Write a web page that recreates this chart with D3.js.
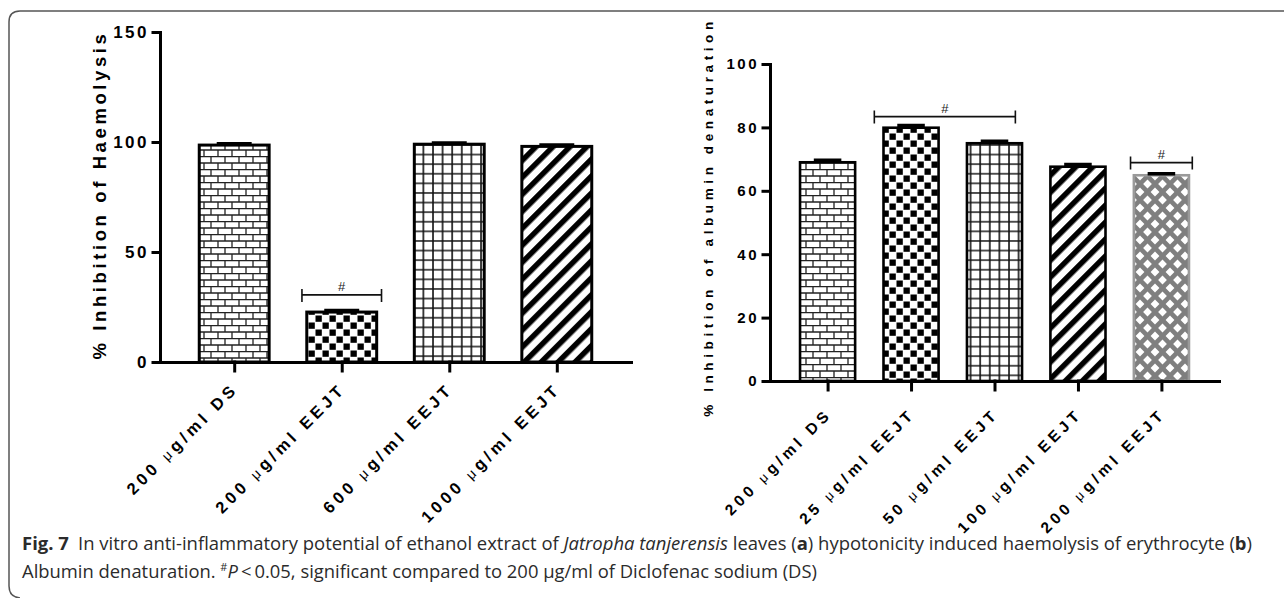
<!DOCTYPE html>
<html>
<head>
<script src="https://d3js.org/d3.v7.min.js"></script>
<style>
  body { margin: 0; background: #fff; }
  svg text { font-family: "Liberation Sans", Arial, sans-serif; }
</style>
</head>
<body>
<div id="chart"></div>
<script>
// panel a : haemolysis
var catsA = ["200 μg/ml DS", "200 μg/ml EEJT", "600 μg/ml EEJT", "1000 μg/ml EEJT"];
var valsA = [98.6, 22.7, 99.0, 98.0];
var errsA = [0.6, 0.7, 0.6, 0.6];
var fillsA = ["brick", "checker", "grid", "stripe"];
var ticksA = [0, 50, 100, 150];

// panel b : albumin denaturation
var catsB = ["200 μg/ml DS", "25 μg/ml EEJT", "50 μg/ml EEJT", "100 μg/ml EEJT", "200 μg/ml EEJT"];
var valsB = [69.0, 79.9, 75.0, 67.6, 64.9];
var errsB = [0.6, 0.7, 0.6, 0.7, 0.5];
var fillsB = ["brick", "checker", "grid", "stripe", "diamond"];
var ticksB = [0, 20, 40, 60, 80, 100];

// significance brackets: [first category, last category, level]
var bracketsA = [[1, 1, 30.5]];
var bracketsB = [[1, 2, 83.4], [4, 4, 68.9]];

var width = 1284, height = 598;
var svg = d3.select('#chart').append('svg').attr('width', width).attr('height', height);

// frame
svg.append('path')
  .attr('d', 'M1284,11 L20,11 Q9,11 9,22 L9,586 Q9,597 20,598')
  .attr('fill', 'none').attr('stroke', '#555').attr('stroke-width', 1.5);

// patterns
var defs = svg.append('defs');
var p = defs.append('pattern').attr('id', 'brick').attr('patternUnits', 'userSpaceOnUse')
  .attr('width', 14).attr('height', 13);
p.append('rect').attr('width', 14).attr('height', 13).attr('fill', '#fff');
p.append('path').attr('d', 'M0,0.5H14M0,7H14M1,0V7M8,7V13')
  .attr('stroke', '#222').attr('stroke-width', 1.3).attr('fill', 'none');

p = defs.append('pattern').attr('id', 'checker').attr('patternUnits', 'userSpaceOnUse')
  .attr('width', 14).attr('height', 14);
p.append('rect').attr('width', 14).attr('height', 14).attr('fill', '#fff');
p.append('rect').attr('x', 0.5).attr('y', 0.5).attr('width', 6.3).attr('height', 6.3).attr('fill', '#000');
p.append('rect').attr('x', 7.5).attr('y', 7.5).attr('width', 6.3).attr('height', 6.3).attr('fill', '#000');

p = defs.append('pattern').attr('id', 'grid').attr('patternUnits', 'userSpaceOnUse')
  .attr('width', 9.6).attr('height', 9.6);
p.append('rect').attr('width', 9.6).attr('height', 9.6).attr('fill', '#fff');
p.append('path').attr('d', 'M0,1H9.6M1,0V9.6').attr('stroke', '#111').attr('stroke-width', 1.6);

p = defs.append('pattern').attr('id', 'stripe').attr('patternUnits', 'userSpaceOnUse')
  .attr('width', 12).attr('height', 12).attr('patternTransform', 'rotate(45)');
p.append('rect').attr('width', 12).attr('height', 12).attr('fill', '#fff');
p.append('rect').attr('width', 5.5).attr('height', 12).attr('fill', '#000');

p = defs.append('pattern').attr('id', 'diamond').attr('patternUnits', 'userSpaceOnUse')
  .attr('width', 15).attr('height', 16);
p.append('rect').attr('width', 15).attr('height', 16).attr('fill', '#7f7f7f');
var dm = function(cx, cy) {
  var r = 4.4;
  return 'M' + cx + ',' + (cy - r) + 'L' + (cx + r) + ',' + cy + 'L' + cx + ',' + (cy + r) + 'L' + (cx - r) + ',' + cy + 'Z';
};
p.append('path')
  .attr('d', dm(0, 0) + dm(15, 0) + dm(0, 16) + dm(15, 16) + dm(7.5, 8))
  .attr('fill', '#fff');

function panel(o) {
  var x = d3.scalePoint().domain(o.cats).range(o.xr).padding(0.69);
  var y = d3.scaleLinear().domain([0, o.ticks[o.ticks.length - 1]]).range(o.yr);
  var bw = x.step() * o.bar;
  var g = svg.append('g');

  // bars
  g.selectAll('rect.bar').data(o.vals).enter().append('rect')
    .attr('class', 'bar')
    .attr('x', function(d, i) { return x(o.cats[i]) - bw / 2; })
    .attr('y', function(d) { return y(d); })
    .attr('width', bw)
    .attr('height', function(d) { return y(0) - y(d); })
    .attr('fill', function(d, i) { return 'url(#' + o.fills[i] + ')'; })
    .attr('stroke', function(d, i) { return o.fills[i] == 'diamond' ? '#9a9a9a' : '#000'; })
    .attr('stroke-width', o.sw);

  // error bars
  g.selectAll('path.err').data(o.vals).enter().append('path')
    .attr('class', 'err')
    .attr('d', function(d, i) {
      var cx = x(o.cats[i]), t = y(d + o.errs[i]);
      return 'M' + cx + ',' + y(d) + 'V' + t + 'M' + (cx - bw / 4) + ',' + t + 'H' + (cx + bw / 4);
    })
    .attr('stroke', '#000').attr('stroke-width', 3.5).attr('fill', 'none');

  // axes
  var ya = g.append('g').attr('transform', 'translate(' + o.xr[0] + ',0)')
    .call(d3.axisLeft(y).tickValues(o.ticks).tickSize(7).tickSizeOuter(0).tickPadding(4));
  var xa = g.append('g').attr('transform', 'translate(0,' + o.yr[0] + ')')
    .call(d3.axisBottom(x).tickSize(9).tickSizeOuter(0).tickFormat(''));
  g.selectAll('.domain, .tick line').attr('stroke', '#000').attr('stroke-width', 3)
    .attr('stroke-linecap', 'square');
  ya.selectAll('text').attr('font-size', o.yfs).attr('font-weight', 'bold')
    .attr('letter-spacing', o.yls).attr('fill', '#000');

  // x labels, rotated
  g.selectAll('text.xl').data(o.cats).enter().append('text')
    .attr('class', 'xl')
    .attr('transform', function(d) {
      return 'translate(' + (x(d) + o.lx) + ',' + (o.yr[0] + o.ly) + ') rotate(-45)';
    })
    .attr('text-anchor', 'end')
    .attr('font-size', o.fs).attr('font-weight', 'bold').attr('letter-spacing', o.ls)
    .each(function(d) {
      var parts = d.split('μ');
      var t = d3.select(this);
      t.append('tspan').text(parts[0]);
      t.append('tspan').text('μ').attr('font-weight', 'normal').attr('font-size', o.fs * 0.85);
      t.append('tspan').text(parts[1]);
    });

  // y title
  g.append('text')
    .attr('transform', 'translate(' + o.tx + ',' + o.ty + ') rotate(-90)')
    .attr('text-anchor', 'middle')
    .attr('font-size', o.tfs).attr('font-weight', 'bold').attr('letter-spacing', o.tls)
    .text(o.title);

  // significance brackets
  o.br.forEach(function(b) {
    var x0 = x(o.cats[b[0]]) - (b[0] == b[1] ? 0.37 : 0.44) * x.step();
    var x1 = x(o.cats[b[1]]) + (b[0] == b[1] ? 0.37 : 0.25) * x.step();
    var yy = y(b[2]);
    g.append('path')
      .attr('d', 'M' + x0 + ',' + yy + 'H' + x1 + 'M' + x0 + ',' + (yy - 6) + 'V' + (yy + 7) +
        'M' + x1 + ',' + (yy - 6) + 'V' + (yy + 7))
      .attr('stroke', '#111').attr('stroke-width', 1.6).attr('fill', 'none');
    g.append('text').attr('x', (x0 + x1) / 2).attr('y', yy - 4)
      .attr('text-anchor', 'middle').attr('font-size', 13).attr('fill', '#222').text('#');
  });
}

panel({ cats: catsA, vals: valsA, errs: errsA, fills: fillsA, ticks: ticksA, br: bracketsA,
  xr: [160, 631], yr: [362, 32], bar: 0.65, sw: 3,
  yfs: 17, yls: 2.5, fs: 16.5, ls: 4, lx: 5, ly: 28,
  title: '% Inhibition of Haemolysis', tfs: 18.5, tls: 3.6, tx: 106, ty: 195 });

panel({ cats: catsB, vals: valsB, errs: errsB, fills: fillsB, ticks: ticksB, br: bracketsB,
  xr: [770, 1219], yr: [381, 64], bar: 0.66, sw: 2.6,
  yfs: 15, yls: 2.5, fs: 15.5, ls: 4, lx: 5, ly: 34,
  title: '% Inhibition of albumin denaturation', tfs: 13.5, tls: 4.6, tx: 713, ty: 217 });

// caption
var cap = svg.append('g').attr('fill', '#2b2b2b');
var l1 = cap.append('text').attr('x', 22).attr('y', 550).attr('font-size', 18.5)
  .attr('textLength', 1230).attr('lengthAdjust', 'spacingAndGlyphs')
  .style('font-family', '"Open Sans", sans-serif');
l1.append('tspan').attr('font-weight', 'bold').text('Fig. 7');
l1.append('tspan').text('\u2002In vitro anti-inflammatory potential of ethanol extract of ');
l1.append('tspan').attr('font-style', 'italic').text('Jatropha tanjerensis');
l1.append('tspan').text(' leaves (');
l1.append('tspan').attr('font-weight', 'bold').text('a');
l1.append('tspan').text(') hypotonicity induced haemolysis of erythrocyte (');
l1.append('tspan').attr('font-weight', 'bold').text('b');
l1.append('tspan').text(')');

var l2 = cap.append('text').attr('x', 22).attr('y', 578).attr('font-size', 18.5)
  .attr('textLength', 795).attr('lengthAdjust', 'spacingAndGlyphs')
  .style('font-family', '"Open Sans", sans-serif');
l2.append('tspan').text('Albumin denaturation. ');
l2.append('tspan').attr('font-size', 11).attr('dy', -7).text('#');
l2.append('tspan').attr('font-style', 'italic').attr('dy', 7).text('P');
l2.append('tspan').text('\u2009<\u20090.05, significant compared to 200 μg/ml of Diclofenac sodium (DS)');
</script>
</body>
</html>
